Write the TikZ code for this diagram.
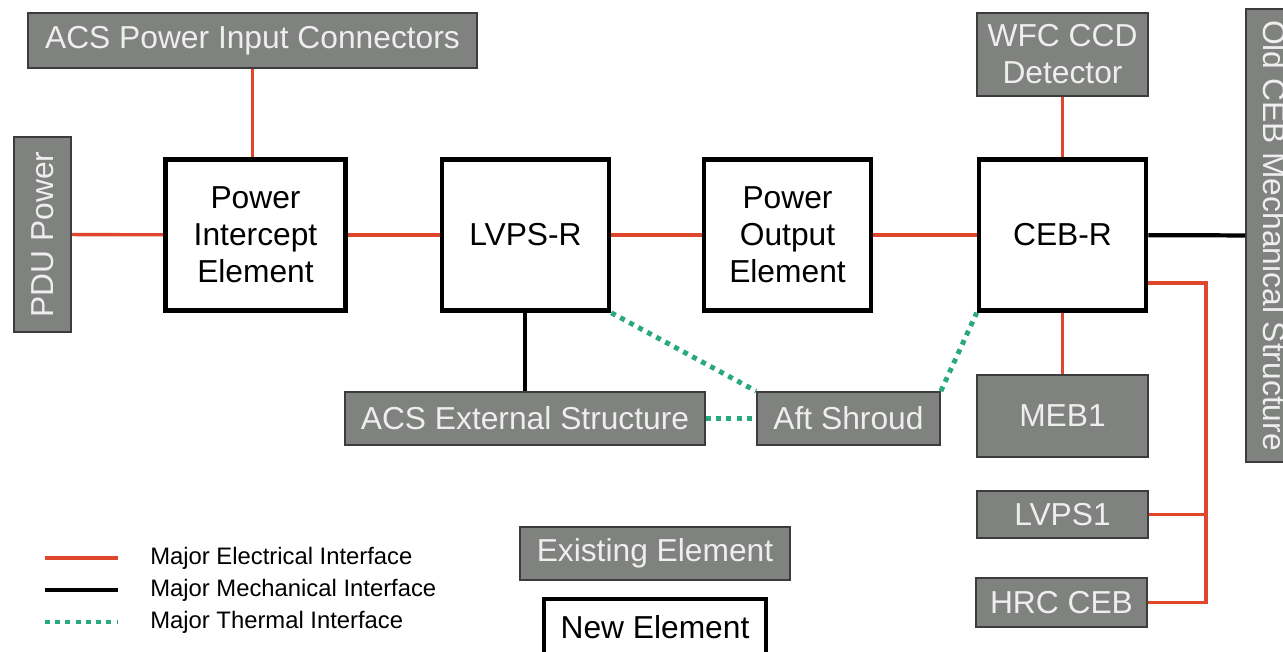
\documentclass[tikz,border=0pt]{standalone}
\usepackage{fontspec}
\setmainfont{Liberation Sans}
\newlength{\px}\setlength{\px}{0.5669pt}
\definecolor{boxgray}{HTML}{7F827E}
\definecolor{boxedge}{HTML}{3C3C3C}
\definecolor{boxtext}{HTML}{EEEEEE}
\definecolor{elecred}{HTML}{E0452E}
\definecolor{thermgreen}{HTML}{2AA882}
\tikzset{
  oldbox/.style={draw=boxedge, line width=1pt, fill=boxgray, text=boxtext, inner sep=0pt,
    font=\fontsize{18}{21}\selectfont, align=center},
  newbox/.style={draw=black, line width=2.6pt, fill=white, text=black, inner sep=0pt,
    font=\fontsize{18}{21}\selectfont, align=center},
  elec/.style={draw=elecred, line width=1.9pt},
  mech/.style={draw=black, line width=2.4pt},
  therm/.style={draw=thermgreen, line width=2.8pt, dash pattern=on 2.8pt off 3pt},
  legtext/.style={anchor=west, font=\fontsize{13.5}{15}\selectfont, inner sep=0pt}
}
\begin{document}
\begin{tikzpicture}[x=0.5669pt, y=-0.5669pt]
\useasboundingbox (0,0) rectangle (1283,652);
% existing elements
\node[oldbox, minimum width=449\px, minimum height=55\px] (acsin) at (252.5,40.5) {ACS Power Input Connectors};
\node[oldbox, rotate=90, minimum width=195\px, minimum height=57\px] (pdu) at (42.5,234.5) {PDU Power};
\node[oldbox, minimum width=171\px, minimum height=83\px] (wfc) at (1062.5,54.5) {WFC CCD\\Detector};
\node[oldbox, rotate=-90, minimum width=453\px, minimum height=57\px] (oldceb) at (1274.5,235.5) {Old CEB Mechanical Structure};
\node[oldbox, minimum width=360\px, minimum height=53\px] (acsext) at (525,418.5) {ACS External Structure};
\node[oldbox, minimum width=183\px, minimum height=53\px] (aft) at (848.5,418.5) {Aft Shroud};
\node[oldbox, minimum width=171\px, minimum height=82\px] (meb) at (1062.5,416) {MEB1};
\node[oldbox, minimum width=171\px, minimum height=47\px] (lvps1) at (1062.5,514.5) {LVPS1};
\node[oldbox, minimum width=171\px, minimum height=49\px] (hrc) at (1061.5,602.5) {HRC CEB};
% new elements
\node[newbox, minimum width=180\px, minimum height=151\px] (pie) at (255.5,235) {Power\\Intercept\\Element};
\node[newbox, minimum width=167\px, minimum height=151\px] (lvpsr) at (525.5,235) {LVPS-R};
\node[newbox, minimum width=167\px, minimum height=151\px] (poe) at (787.5,235) {Power\\Output\\Element};
\node[newbox, minimum width=167\px, minimum height=151\px] (cebr) at (1062.5,235) {CEB-R};
% electrical
\draw[elec] (pdu) -- (pie);
\draw[elec] (acsin.south) -- (acsin.south |- pie.north);
\draw[elec] (pie) -- (lvpsr);
\draw[elec] (lvpsr) -- (poe);
\draw[elec] (poe) -- (cebr);
\draw[elec] (wfc) -- (cebr);
\draw[elec] (cebr) -- (meb);
\coordinate (bus) at (1206,283);
\coordinate (busend) at (1206,602.5);
\draw[elec] (cebr.east |- bus) -- (bus) -- (busend) -- (hrc.east |- busend);
\draw[elec] (lvps1.east) -- (lvps1.east -| bus);
% mechanical
\draw[mech] (cebr) -- (oldceb);
\draw[mech] (lvpsr.south -| acsext.north) -- (acsext.north);
% thermal
\draw[therm] (lvpsr.south east) -- (aft.north west);
\draw[therm] (aft.north east) -- (cebr.south west);
\draw[therm] (acsext.east) -- (aft.west);
% legend
\coordinate (l1a) at (45,558); \coordinate (l1b) at (118,558);
\coordinate (l2a) at (45,590); \coordinate (l2b) at (118,590);
\coordinate (l3a) at (45,622); \coordinate (l3b) at (118,622);
\draw[elec] (l1a) -- (l1b);
\draw[mech] (l2a) -- (l2b);
\draw[therm] (l3a) -- (l3b);
\node[legtext] (t1) at (150,558) {Major Electrical Interface};
\node[legtext] (t2) at (150,590) {Major Mechanical Interface};
\node[legtext] (t3) at (150,622) {Major Thermal Interface};
\node[oldbox, minimum width=270\px, minimum height=53\px] (exist) at (655,553.5) {Existing Element};
\node[newbox, minimum width=222\px, minimum height=56\px] (newel) at (655,627) {New Element};
\end{tikzpicture}
\end{document}
